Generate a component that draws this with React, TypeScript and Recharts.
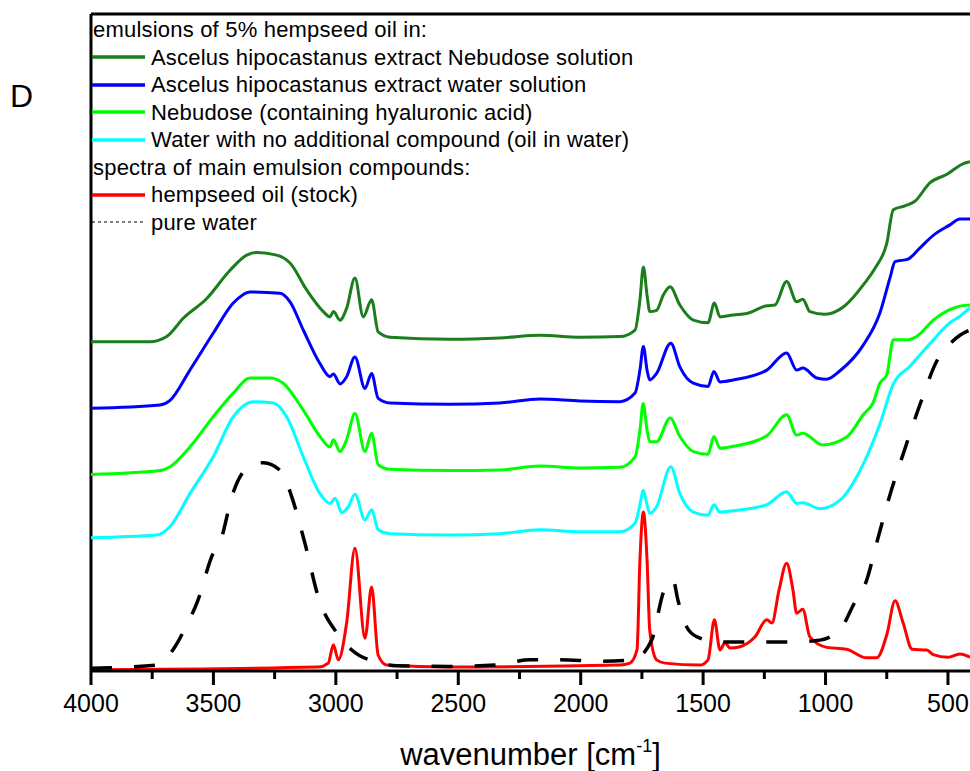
import React from "react";
import { LineChart, Line, XAxis, YAxis, ReferenceLine, Legend } from "recharts";

const FONT = "'Liberation Sans', Arial, sans-serif";

const xTicks = [4000, 3750, 3500, 3250, 3000, 2750, 2500, 2250, 2000, 1750, 1500, 1250, 1000, 750, 500];
const majorTicks = [4000, 3500, 3000, 2500, 2000, 1500, 1000, 500];

const legendHeadings = ["emulsions of 5% hempseed oil in:", "spectra of main emulsion compounds:"];
const seriesNames = [
  "Ascelus hipocastanus extract Nebudose solution",
  "Ascelus hipocastanus extract water solution",
  "Nebudose (containing hyaluronic acid)",
  "Water with no additional compound (oil in water)",
  "hempseed oil (stock)",
  "pure water",
];
const seriesColors = ["#1b7d1b", "#0000ff", "#00ff00", "#00ffff", "#ff0000", "#000000"];

// [wavenumber cm-1, absorbance (a.u., stacked)]
const aesculusNebudose: [number, number][] = [
  [4000, 50.1], [3759, 50.1], [3691, 50.9], [3623, 53.7], [3527, 56.7], [3432, 61.0], [3364, 63.3],
  [3323, 63.7], [3242, 63.3], [3187, 62.1], [3119, 58.0], [3051, 54.7], [3024, 53.9], [3010, 54.7],
  [2983, 53.4], [2956, 55.2], [2922, 59.8], [2888, 53.9], [2854, 56.5], [2827, 51.6], [2779, 50.8],
  [2534, 50.5], [2330, 50.7], [2166, 51.1], [2003, 50.8], [1840, 50.9], [1778, 51.9], [1758, 56.5],
  [1744, 61.5], [1729, 57.2], [1718, 54.7], [1690, 54.9], [1663, 57.2], [1635, 58.5], [1595, 55.7],
  [1540, 53.4], [1480, 53.0], [1454, 56.0], [1431, 53.9], [1377, 54.2], [1322, 54.4], [1240, 55.6],
  [1207, 55.7], [1159, 59.3], [1118, 56.2], [1093, 56.6], [1064, 54.7], [1002, 54.3], [921, 55.6],
  [839, 59.1], [798, 61.3], [750, 65.1], [723, 70.2], [676, 70.8], [635, 71.5], [574, 74.3],
  [504, 75.6], [439, 77.2], [410, 77.5],
];

const aesculusWater: [number, number][] = [
  [4000, 40.0], [3718, 40.5], [3677, 41.2], [3596, 45.8], [3501, 51.4], [3419, 56.0], [3351, 57.7],
  [3228, 57.5], [3187, 56.2], [3133, 51.9], [3065, 46.8], [3024, 44.8], [3010, 45.2], [2983, 43.7],
  [2956, 44.8], [2922, 47.8], [2881, 43.0], [2854, 45.3], [2827, 41.5], [2779, 40.8], [2534, 40.6],
  [2330, 40.8], [2166, 41.4], [2003, 41.1], [1840, 41.0], [1778, 42.3], [1758, 45.8], [1744, 49.4],
  [1729, 45.8], [1718, 44.3], [1690, 45.3], [1632, 49.9], [1595, 46.3], [1540, 43.8], [1480, 43.3],
  [1456, 45.6], [1431, 44.0], [1377, 44.3], [1240, 45.8], [1159, 48.4], [1118, 45.8], [1093, 46.1],
  [1036, 44.6], [995, 44.4], [941, 45.7], [846, 49.6], [778, 54.5], [737, 59.8], [716, 62.3],
  [663, 62.7], [614, 64.4], [560, 66.3], [492, 67.9], [451, 68.8], [410, 68.8],
];

const nebudose: [number, number][] = [
  [4000, 29.9], [3718, 30.5], [3677, 31.1], [3596, 34.1], [3501, 38.7], [3419, 42.3], [3351, 44.6],
  [3269, 44.6], [3215, 43.8], [3133, 39.7], [3065, 35.7], [3024, 34.1], [3010, 35.2], [2983, 33.4],
  [2956, 35.2], [2922, 39.2], [2881, 33.4], [2854, 36.2], [2827, 31.4], [2779, 30.7], [2534, 30.5],
  [2330, 30.6], [2166, 31.2], [2003, 30.9], [1840, 31.0], [1778, 32.6], [1758, 36.7], [1745, 40.7],
  [1729, 36.7], [1718, 34.9], [1690, 34.9], [1635, 38.5], [1595, 35.7], [1540, 33.4], [1480, 33.0],
  [1456, 35.7], [1431, 33.9], [1377, 34.2], [1240, 35.8], [1159, 39.0], [1118, 35.9], [1093, 36.2],
  [1011, 34.4], [914, 35.6], [846, 39.0], [805, 40.9], [778, 43.8], [750, 45.1], [723, 50.4],
  [668, 50.4], [628, 50.9], [560, 53.4], [464, 55.4], [410, 55.7],
];

const oilInWater: [number, number][] = [
  [4000, 20.3], [3732, 20.7], [3677, 22.0], [3596, 27.0], [3501, 32.6], [3419, 38.7], [3337, 41.0],
  [3255, 40.8], [3201, 38.7], [3133, 32.6], [3065, 27.0], [3024, 25.5], [3003, 26.3], [2976, 24.1],
  [2949, 25.0], [2922, 26.9], [2881, 23.0], [2854, 24.5], [2827, 21.5], [2779, 20.9], [2534, 20.7],
  [2330, 20.9], [2166, 21.5], [2003, 21.2], [1840, 21.2], [1778, 22.5], [1758, 25.3], [1745, 27.5],
  [1729, 25.3], [1718, 24.0], [1690, 25.0], [1632, 31.1], [1595, 27.0], [1540, 24.2], [1480, 23.7],
  [1456, 25.3], [1431, 24.2], [1377, 24.4], [1240, 25.3], [1159, 27.3], [1118, 25.5], [1093, 25.6],
  [1023, 24.7], [941, 26.0], [846, 31.5], [778, 37.6], [723, 43.7], [655, 46.4], [574, 49.8],
  [492, 53.0], [451, 54.0], [410, 55.3],
];

const hempseedOil: [number, number][] = [
  [4000, 0.2], [3072, 0.6], [3031, 1.2], [3010, 4.0], [2990, 1.7], [2956, 7.3], [2922, 18.7],
  [2881, 5.0], [2854, 12.8], [2827, 2.4], [2792, 0.9], [2534, 0.6], [1840, 0.9], [1799, 1.2],
  [1770, 3.2], [1758, 16.9], [1744, 24.2], [1729, 16.9], [1718, 6.2], [1690, 1.7], [1656, 1.2],
  [1513, 0.9], [1480, 1.7], [1454, 7.8], [1431, 3.2], [1411, 4.3], [1390, 3.5], [1349, 3.7],
  [1288, 5.2], [1240, 7.8], [1219, 7.3], [1190, 12.3], [1159, 16.4], [1133, 12.3], [1118, 8.8],
  [1093, 9.4], [1064, 5.2], [995, 3.6], [914, 3.3], [832, 2.0], [791, 2.0], [750, 5.5], [716, 10.7],
  [683, 7.3], [646, 3.3], [587, 3.2], [560, 2.5], [500, 2.1], [451, 2.6], [410, 2.1],
];

const pureWater: [number, number][] = [
  [4000, 0.4], [3922, 0.5], [3732, 0.9], [3657, 3.7], [3616, 6.5], [3563, 10.8], [3507, 17.4],
  [3466, 20.4], [3425, 26.5], [3358, 31.0], [3296, 31.7], [3221, 30.3], [3180, 26.5], [3126, 19.4],
  [3072, 11.3], [2990, 5.5], [2935, 3.2], [2827, 1.3], [2758, 0.8], [2534, 0.7], [2350, 0.9],
  [2207, 1.7], [2085, 1.7], [1922, 1.5], [1786, 1.7], [1710, 4.7], [1663, 11.9], [1623, 13.9],
  [1603, 10.8], [1567, 6.7], [1525, 5.2], [1431, 4.4], [1148, 4.4], [1023, 4.7], [937, 6.5],
  [880, 10.5], [839, 13.1], [786, 20.2], [737, 26.8], [676, 33.8], [614, 40.6], [541, 47.5],
  [492, 49.8], [451, 51.1], [410, 51.9],
];

const seriesData = [aesculusNebudose, aesculusWater, nebudose, oilInWater, hempseedOil, pureWater];

const toRows = (pts: [number, number][]) => pts.map(([wn, a]) => ({ wn, a }));

function XTick(props: any) {
  const { x, y, payload } = props;
  const major = majorTicks.includes(payload.value);
  return (
    <g>
      <line x1={x} y1={y} x2={x} y2={y + (major ? 14 : 8)} stroke="#000" strokeWidth={3} />
      {major && (
        <text x={x} y={y + 41} textAnchor="middle" fontSize={25} fontFamily={FONT} fill="#000">
          {payload.value}
        </text>
      )}
    </g>
  );
}

function AxisTitle(props: any) {
  const vb = props.viewBox;
  return (
    <text x={vb.x + vb.width / 2} y={vb.y + 94} textAnchor="middle" fontSize={31} fontFamily={FONT} fill="#000">
      wavenumber [cm
      <tspan dy={-13} fontSize={18}>-1</tspan>
      <tspan dy={13}>]</tspan>
    </text>
  );
}

function LegendBox(props: any) {
  const items = props.payload || [];
  const rowStyle: React.CSSProperties = { height: 27.5, lineHeight: "27.5px", whiteSpace: "nowrap", display: "flex", alignItems: "center" };
  const rows: React.ReactNode[] = [];
  items.forEach((it: any, i: number) => {
    if (i === 0) rows.push(<div key="h0" style={{ ...rowStyle, paddingLeft: 2 }}>{legendHeadings[0]}</div>);
    if (i === 4) rows.push(<div key="h1" style={{ ...rowStyle, paddingLeft: 2 }}>{legendHeadings[1]}</div>);
    const dashed = i === 5;
    rows.push(
      <div key={i} style={rowStyle}>
        <svg width={54} height={8} style={{ display: "block" }}>
          <line x1={1} y1={4} x2={54} y2={4} stroke={it.color} strokeWidth={dashed ? 1 : 3.5} strokeDasharray={dashed ? "3 3" : undefined} />
        </svg>
        <span style={{ marginLeft: 6 }}>{it.value}</span>
      </div>
    );
  });
  return <div style={{ fontFamily: FONT, fontSize: 22, letterSpacing: 0.2, color: "#000" }}>{rows}</div>;
}

export default function App() {
  return (
    <div style={{ position: "absolute", left: 0, top: 0, width: 970, height: 771, overflow: "hidden", background: "#fff" }}>
      <div style={{ position: "absolute", left: 10, top: 80, fontFamily: FONT, fontSize: 32, lineHeight: "32px", color: "#000" }}>D</div>
      <LineChart width={970} height={771} margin={{ top: 14, right: 0, left: 91, bottom: 0 }}>
        <XAxis
          dataKey="wn"
          type="number"
          domain={[410, 4000]}
          reversed
          allowDataOverflow
          ticks={xTicks}
          interval={0}
          tickSize={0}
          tickMargin={0}
          tickLine={false}
          tick={<XTick />}
          height={100}
          axisLine={{ stroke: "#000", strokeWidth: 3 }}
          label={{ content: AxisTitle }}
        />
        <YAxis type="number" domain={[0, 100]} allowDataOverflow width={0} tick={false} tickLine={false} axisLine={false} />
        <ReferenceLine y={100} stroke="#000" strokeWidth={3} />
        <ReferenceLine x={4000} stroke="#000" strokeWidth={3} />
        <Legend
          layout="vertical"
          align="center"
          verticalAlign="middle"
          content={<LegendBox />}
          wrapperStyle={{ top: 16, left: 91, width: 700 }}
        />
        {seriesData.map((pts, i) => (
          <Line
            key={seriesNames[i]}
            data={toRows(pts)}
            dataKey="a"
            name={seriesNames[i]}
            type="monotone"
            stroke={seriesColors[i]}
            strokeWidth={i === 5 ? 3.5 : 3}
            strokeDasharray={i === 5 ? "21 22" : undefined}
            dot={false}
            activeDot={false}
            isAnimationActive={false}
          />
        ))}
      </LineChart>
    </div>
  );
}
